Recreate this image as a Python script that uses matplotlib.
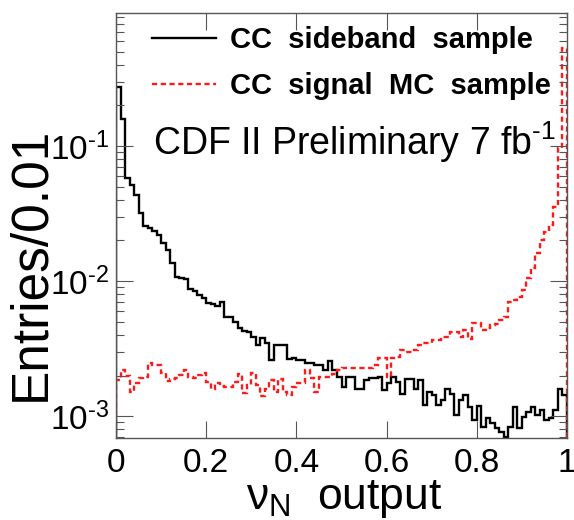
import numpy as np
import matplotlib
matplotlib.use("Agg")
import matplotlib.pyplot as plt
from matplotlib.ticker import LogLocator, NullFormatter, FixedLocator

# ---- data (100 bins of width 0.01) ----
bin_edges = np.round(np.linspace(0.0, 1.0, 101), 3)

sideband = [
    0.273, 0.158, 0.058, 0.0514, 0.0434, 0.0319, 0.0255, 0.0247, 0.0235, 0.0219,
    0.0191, 0.0170, 0.0136, 0.0107, 0.0105, 0.0103, 0.0087, 0.0084, 0.0079, 0.0075,
    0.0069, 0.0068, 0.0066, 0.0070, 0.0054, 0.0054, 0.0050, 0.0045, 0.0043, 0.00419,
    0.00385, 0.00336, 0.00379, 0.00347, 0.00260, 0.00336, 0.00336, 0.00336, 0.00264, 0.00269,
    0.00260, 0.00260, 0.00247, 0.00247, 0.00239, 0.00239, 0.00219, 0.00255, 0.00219, 0.00195,
    0.00164, 0.00195, 0.00195, 0.00158, 0.00158, 0.00185, 0.00191, 0.00191, 0.00195, 0.00156,
    0.00175, 0.00195, 0.00179, 0.00146, 0.00188, 0.00188, 0.00158, 0.00185, 0.00121, 0.00151,
    0.00143, 0.00121, 0.00131, 0.00158, 0.00146, 0.00102, 0.00131, 0.00143, 0.00117, 0.00093,
    0.00119, 0.00083, 0.00097, 0.00089, 0.00082, 0.00076, 0.00070, 0.00083, 0.00117, 0.00082,
    0.00098, 0.00107, 0.00117, 0.00102, 0.00111, 0.00093, 0.00097, 0.00111, 0.00158, 0.00143,
]

signal_mc = [
    0.00185, 0.00219, 0.00198, 0.00151, 0.00175, 0.00191, 0.00195, 0.00247, 0.00239, 0.00239,
    0.00208, 0.00182, 0.00188, 0.00191, 0.00202, 0.00219, 0.00195, 0.00191, 0.00202, 0.00208,
    0.00179, 0.00158, 0.00175, 0.00167, 0.00164, 0.00164, 0.00179, 0.00205, 0.00148, 0.00170,
    0.00208, 0.00170, 0.00140, 0.00160, 0.00185, 0.00151, 0.00190, 0.00151, 0.00143, 0.00164,
    0.00175, 0.00175, 0.00219, 0.00191, 0.00151, 0.00195, 0.00195, 0.00195, 0.00205, 0.00219,
    0.00226, 0.00226, 0.00226, 0.00226, 0.00226, 0.00226, 0.00226, 0.00239, 0.00269, 0.00269,
    0.00195, 0.00269, 0.00274, 0.00307, 0.00300, 0.00300, 0.00307, 0.00336, 0.00347, 0.00347,
    0.00368, 0.00368, 0.00385, 0.00385, 0.00419, 0.00419, 0.00385, 0.00435, 0.00375, 0.00490,
    0.00490, 0.00435, 0.00450, 0.00475, 0.00480, 0.00514, 0.00541, 0.00699, 0.00722, 0.00760,
    0.00858, 0.0105, 0.0125, 0.0161, 0.0201, 0.0231, 0.0260, 0.0353, 0.0967, 0.532,
]

series_labels = ["CC  sideband  sample", "CC  signal  MC  sample"]
x_ticks = [0, 0.2, 0.4, 0.6, 0.8, 1]
x_ticklabels = ["0", "0.2", "0.4", "0.6", "0.8", "1"]
y_ticks = [1e-3, 1e-2, 1e-1]
y_ticklabels = ["10$^{\u2010\\mathregular{3}}$", "10$^{\u2010\\mathregular{2}}$",
                "10$^{\u2010\\mathregular{1}}$"]

FONT = "Liberation Sans"
plt.rcParams["font.family"] = [FONT, "DejaVu Sans"]
plt.rcParams["mathtext.fontset"] = "custom"
plt.rcParams["mathtext.rm"] = FONT
plt.rcParams["mathtext.it"] = FONT
plt.rcParams["mathtext.bf"] = FONT + ":bold"
plt.rcParams["mathtext.default"] = "regular"

fig = plt.figure(figsize=(5.74, 5.20), dpi=100)
ax = fig.add_axes([116/574, (520-438)/520, (567-116)/574, (438-13)/520])

ax.stairs(sideband, bin_edges, color="black", lw=1.7, label=series_labels[0])
ax.stairs(signal_mc, bin_edges, color="#ff1a1a", lw=1.7, linestyle=(0, (2.2, 1.5)),
          label=series_labels[1])

ax.set_yscale("log")
ax.set_xlim(0, 1)
ax.set_ylim(6.9e-4, 0.965)

ax.xaxis.set_major_locator(FixedLocator(x_ticks))
ax.set_xticklabels(x_ticklabels)
ax.yaxis.set_major_locator(FixedLocator(y_ticks))
ax.set_yticklabels(y_ticklabels)
ax.yaxis.set_minor_locator(LogLocator(base=10, subs=np.arange(2, 10)))
ax.yaxis.set_minor_formatter(NullFormatter())

ax.tick_params(axis="both", which="major", direction="in", length=12, width=0.8,
               top=True, right=True, labelsize=24, colors="#555555", labelcolor="black")
ax.tick_params(axis="both", which="minor", direction="in", length=6, width=0.8,
               top=True, right=True, colors="#555555")
ax.tick_params(axis="x", which="major", pad=7)
ax.tick_params(axis="y", which="major", pad=5)
for s in ax.spines.values():
    s.set_color("#555555")
    s.set_linewidth(1.0)

ax.set_ylabel("Entries/0.01", fontsize=37)
ax.yaxis.set_label_coords(-0.135, 0.41)
ax.set_xlabel(r"$\mathregular{\nu_N}$  output", fontsize=32)
ax.xaxis.set_label_coords(0.505, -0.095)

ax.text(0.082, 0.666, "CDF II Preliminary 7 fb$^{\u2010\\mathregular{1}}$",
        transform=ax.transAxes, fontsize=27, ha="left", va="baseline")

leg = ax.legend(loc="upper right", bbox_to_anchor=(0.965, 0.97), frameon=False,
                prop={"family": FONT, "weight": "bold", "size": 21},
                handlelength=2.2, handletextpad=0.5, labelspacing=0.62,
                borderaxespad=0.0, borderpad=0.0)

fig.savefig("out.png", dpi=100)
